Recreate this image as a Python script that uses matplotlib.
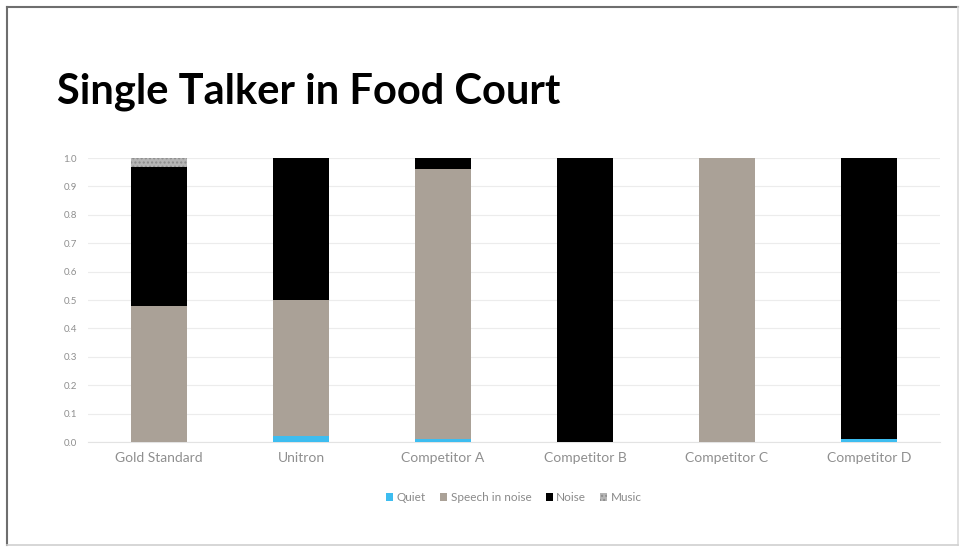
import numpy as np
import matplotlib
matplotlib.use("Agg")
import matplotlib.pyplot as plt
from matplotlib.lines import Line2D

# === DATA ===
categories = ["Gold Standard", "Unitron", "Competitor A", "Competitor B", "Competitor C", "Competitor D"]
quiet = [0.00, 0.02, 0.01, 0.00, 0.00, 0.01]
speech_in_noise = [0.48, 0.48, 0.95, 0.00, 1.00, 0.00]
noise = [0.49, 0.50, 0.04, 1.00, 0.00, 0.99]
music = [0.03, 0.00, 0.00, 0.00, 0.00, 0.00]

series = [("Quiet", quiet, "#3dbdf0", None),
          ("Speech in noise", speech_in_noise, "#aaa197", None),
          ("Noise", noise, "#000000", None),
          ("Music", music, "#b5b5b5", "....")]

plt.rcParams['font.family'] = ['Lato', 'DejaVu Sans']
plt.rcParams['hatch.color'] = '#8c8c8c'

fig = plt.figure(figsize=(9.6, 5.47), dpi=100)

# slide border: dark left/top, faint right/bottom
L, R, T, B = 6.5 / 960, 958 / 960, 1 - 6.5 / 547, 1 - 545 / 547
fig.lines.append(Line2D([L, L], [B, T], transform=fig.transFigure, color="#6e6e6e", lw=1.5))
fig.lines.append(Line2D([L, R], [T, T], transform=fig.transFigure, color="#6e6e6e", lw=1.5))
fig.lines.append(Line2D([R, R], [B, T], transform=fig.transFigure, color="#dcdcdc", lw=1.2))
fig.lines.append(Line2D([L, R], [B, B], transform=fig.transFigure, color="#cfcfcf", lw=1.2))

ax = fig.add_axes([88 / 960, 105 / 547, 852 / 960, 284 / 547])
x = np.arange(len(categories))
bottom = np.zeros(len(categories))
for name, vals, color, hatch in series:
    vals = np.array(vals)
    ax.bar(x, vals, width=0.4, bottom=bottom, color=color, label=name, hatch=hatch,
           linewidth=0, zorder=3)
    bottom += vals

ax.set_xlim(-0.5, 5.5)
ax.set_ylim(0, 1.0)
ax.set_yticks(np.arange(0, 1.01, 0.1))
ax.set_yticklabels([f"{v:.1f}" for v in np.arange(0, 1.01, 0.1)])
ax.set_xticks(x)
ax.set_xticklabels(categories)
ax.yaxis.grid(True, color="#ececec", linewidth=0.8, zorder=0)
ax.set_axisbelow(True)
for s in ax.spines.values():
    s.set_visible(False)
ax.spines['bottom'].set_visible(True)
ax.spines['bottom'].set_color("#e3e3e3")
ax.tick_params(axis='both', length=0, colors="#8f8f8f")
ax.tick_params(axis='y', labelsize=7, pad=8)
ax.tick_params(axis='x', labelsize=10, pad=7)

ax.legend(loc="upper center", bbox_to_anchor=(0.5, -0.14), ncol=4, frameon=False,
          fontsize=8.5, handlelength=0.6, handleheight=0.6, handletextpad=0.3,
          columnspacing=1.2, labelcolor="#8a8a8a")

fig.text(57 / 960, 1 - 92 / 547, "Single Talker in Food Court", fontsize=30, fontweight="bold",
         va="center", ha="left", color="#000000")

fig.savefig("out.png", dpi=100)
